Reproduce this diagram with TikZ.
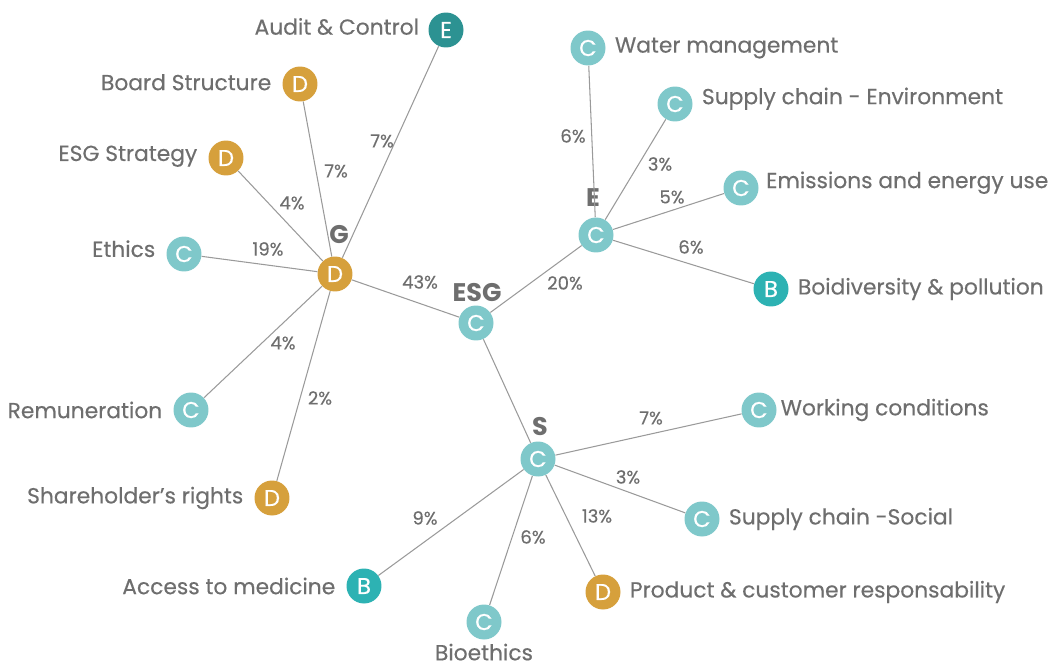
\documentclass[tikz,border=0pt]{standalone}
\usepackage{fontspec}
\setmainfont{Poppins}
\newfontfamily\medfont{Poppins}[FakeBold=0.35]
\definecolor{cLight}{HTML}{7FC8CA}
\definecolor{cGold}{HTML}{D6A03C}
\definecolor{cDark}{HTML}{2C9292}
\definecolor{cBright}{HTML}{2DB2B3}
\definecolor{txtgray}{HTML}{6E6E6E}
\definecolor{linegray}{HTML}{9A9A9A}
\tikzset{
  dot/.style={circle, inner sep=0pt, minimum size=0.7cm, text=white,
    font=\medfont\fontsize{13}{15}\selectfont},
  dotC/.style={dot, fill=cLight},
  dotD/.style={dot, fill=cGold},
  dotE/.style={dot, fill=cDark},
  dotB/.style={dot, fill=cBright},
  lbl/.style={text=txtgray, font=\medfont\fontsize{12.4}{14}\selectfont, inner sep=0pt},
  hub/.style={text=txtgray, font=\fontsize{14.5}{16}\selectfont\bfseries, inner sep=0pt},
  pct/.style={text=txtgray, font=\medfont\fontsize{10.3}{12}\selectfont, inner sep=0pt},
  link/.style={draw=linegray, line width=0.6pt}
}
\begin{document}
\begin{tikzpicture}[x=0.02cm, y=-0.02cm]
    \useasboundingbox (0,0) rectangle (1059,666);
    % hubs
    \node[dotC] (esg) at (476,323) {C};
    \node[dotD] (g) at (335,274) {D};
    \node[dotC] (e) at (596,235) {C};
    \node[dotC] (s) at (538,459) {C};
    \node[hub] at (477,293) {ESG};
    \node[hub] at (339,235) {G};
    \node[hub] at (593,198) {E};
    \node[hub] at (540,427) {S};
    % governance
    \node[dotE, label={[lbl, xshift=-5pt, yshift=2pt]left:Audit \& Control}] (audit) at (446,30) {E};
    \node[dotD, label={[lbl, xshift=-6pt, yshift=1pt]left:Board Structure}] (board) at (300,84) {D};
    \node[dotD, label={[lbl, xshift=-6pt, yshift=1pt]left:ESG Strategy}] (strat) at (226,158) {D};
    \node[dotC, label={[lbl, xshift=-6pt, yshift=3pt]left:Ethics}] (ethics) at (184,254) {C};
    \node[dotC, label={[lbl, xshift=-6pt]left:Remuneration}] (remun) at (191,410) {C};
    \node[dotD, label={[lbl, xshift=-6pt]left:Shareholder’s rights}] (share) at (272,498) {D};
    % environment
    \node[dotC, label={[lbl, xshift=5pt]right:Water management}] (water) at (588,48) {C};
    \node[dotC, label={[lbl, xshift=5pt, yshift=3pt]right:Supply chain - Environment}] (supenv) at (675,104) {C};
    \node[dotC, label={[lbl, xshift=4pt, yshift=3pt]right:Emissions and energy use}] (emis) at (741,188) {C};
    \node[dotB, label={[lbl, xshift=5pt]right:Boidiversity \& pollution}] (biodiv) at (771,289) {B};
    % social
    \node[dotC, label={[lbl, xshift=2pt]right:Working conditions}] (work) at (759,410) {C};
    \node[dotC, label={[lbl, xshift=5pt]right:Supply chain -Social}] (supsoc) at (702,519) {C};
    \node[dotD, label={[lbl, xshift=5pt]right:Product \& customer responsability}] (prod) at (603,592) {D};
    \node[dotC, label={[lbl, yshift=-2pt]below:Bioethics}] (bioeth) at (484,622) {C};
    \node[dotB, label={[lbl, xshift=-6pt]left:Access to medicine}] (access) at (364,586) {B};
    % connectors
    \draw[link] (esg) -- (g);
    \draw[link] (esg) -- (e);
    \draw[link] (esg) -- (s);
    \foreach \n in {audit,board,strat,ethics,remun,share}
        \draw[link] (g) -- (\n);
    \foreach \n in {water,supenv,emis,biodiv}
        \draw[link] (e) -- (\n);
    \foreach \n in {work,supsoc,prod,bioeth,access}
        \draw[link] (s) -- (\n);
    % shares
    \node[pct] at (420,282) {43\%};
    \node[pct] at (565,283) {20\%};
    \node[pct] at (382,141) {7\%};
    \node[pct] at (336,171) {7\%};
    \node[pct] at (292,203) {4\%};
    \node[pct] at (268,249) {19\%};
    \node[pct] at (283,343) {4\%};
    \node[pct] at (320,398) {2\%};
    \node[pct] at (573,136) {6\%};
    \node[pct] at (660,164) {3\%};
    \node[pct] at (672,197) {5\%};
    \node[pct] at (691,247) {6\%};
    \node[pct] at (651,418) {7\%};
    \node[pct] at (628,477) {3\%};
    \node[pct] at (597,516) {13\%};
    \node[pct] at (533,537) {6\%};
    \node[pct] at (425,518) {9\%};
\end{tikzpicture}
\end{document}
